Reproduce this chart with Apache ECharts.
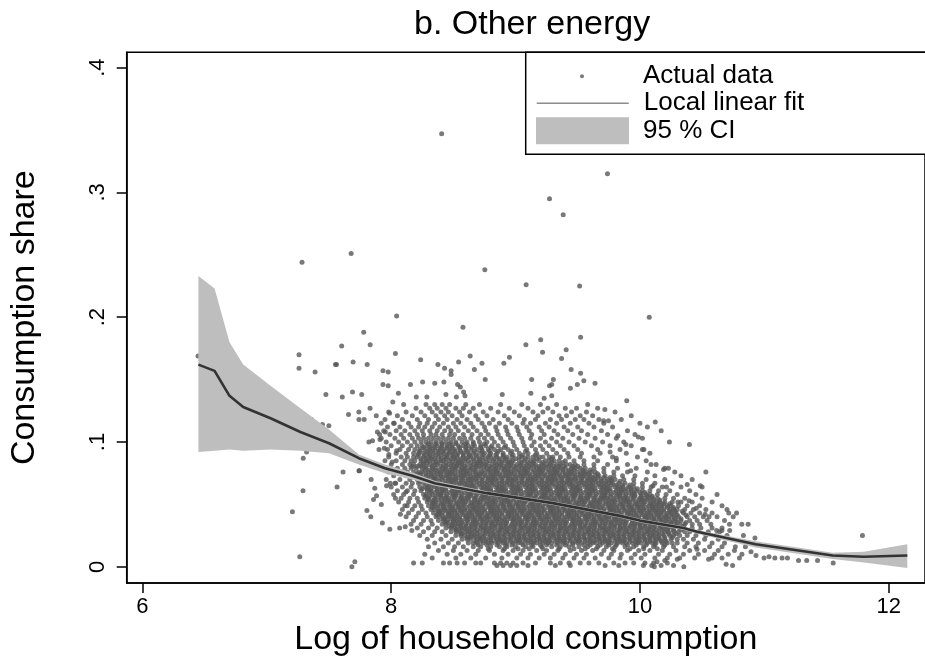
<!DOCTYPE html>
<html>
<head>
<meta charset="utf-8">
<script src="https://cdn.jsdelivr.net/npm/echarts@6/dist/echarts.min.js"></script>
<style>html,body{margin:0;padding:0;background:#fff}#c{width:925px;height:662px}</style>
</head>
<body>
<div id="c"></div>
<script>
// ---- axis ticks ----
const xTicks = [6, 8, 10, 12];
const yTicks = [0, 0.1, 0.2, 0.3, 0.4];
const yTickLabels = ['0', '.1', '.2', '.3', '.4'];

// ---- local linear fit and 95% CI ----
const fitX   = [6.45, 6.58, 6.70, 6.81, 7.03, 7.27, 7.50, 7.74, 7.95, 8.17, 8.35, 8.77, 9.30, 9.83, 10.00, 10.35, 10.46, 10.93, 11.55, 11.80, 12.15];
const fitY   = [0.162, 0.157, 0.137, 0.128, 0.119, 0.108, 0.099, 0.087, 0.079, 0.073, 0.067, 0.059, 0.051, 0.041, 0.037, 0.031, 0.028, 0.018, 0.009, 0.008, 0.009];
const ciLow  = [0.092, 0.093, 0.094, 0.093, 0.094, 0.093, 0.091, 0.082, 0.075, 0.070, 0.065, 0.0575, 0.0495, 0.0395, 0.0355, 0.0295, 0.0265, 0.0155, 0.0062, 0.0035, -0.001];
const ciHigh = [0.233, 0.223, 0.180, 0.162, 0.145, 0.127, 0.110, 0.090, 0.082, 0.0755, 0.069, 0.0605, 0.0525, 0.0425, 0.0385, 0.0325, 0.0295, 0.0205, 0.0112, 0.012, 0.018];

// ---- actual data: isolated points read individually ----
const outlierPoints = [
[8.406,0.347],[9.739,0.315],[9.273,0.295],[9.383,0.282],[7.283,0.244],[7.678,0.251],[8.753,0.238],[9.085,0.226],[9.515,0.225],[10.075,0.200],
[8.044,0.201],[8.577,0.192],[7.779,0.188],[7.602,0.177],[7.831,0.178],[9.083,0.178],[9.202,0.182],[9.523,0.184],[9.217,0.172],[9.407,0.174],
[8.034,0.171],[8.635,0.169],[8.951,0.168],[9.370,0.167],[7.694,0.164],[7.807,0.162],[7.560,0.162],[8.237,0.166],[8.376,0.162],[8.542,0.164],
[8.730,0.163],[8.906,0.163],[8.429,0.159],[8.482,0.157],[8.482,0.154],[8.669,0.158],[7.934,0.157],[7.976,0.156],[9.447,0.158],[9.523,0.155],
[9.549,0.149],[9.639,0.147],[9.497,0.146],[9.441,0.143],[9.304,0.150],[9.291,0.146],[9.273,0.145],[9.130,0.150],[8.756,0.150],[7.934,0.146],
[7.976,0.145],[8.155,0.146],[8.253,0.148],[8.350,0.147],[8.424,0.148],[8.534,0.146],[8.556,0.144],[8.582,0.140],[8.593,0.137],[7.607,0.136],
[7.689,0.140],[7.763,0.138],[8.058,0.139],[8.202,0.136],[8.287,0.136],[8.440,0.138],[8.524,0.136],[8.893,0.138],[9.123,0.139],[9.230,0.135],
[9.291,0.137],[9.894,0.133],[8.013,0.132],[6.447,0.169],[7.259,0.170],[7.259,0.159],[7.388,0.156],[7.552,0.162],[7.475,0.138],
[7.657,0.122],[7.741,0.118],[7.783,0.118],[7.360,0.118],[7.447,0.114],[7.499,0.113],[7.987,0.123],[7.320,0.092],[7.293,0.087],[7.613,0.076],
[7.741,0.077],[7.821,0.100],[7.850,0.101],[7.907,0.106],[7.910,0.102],[7.953,0.108],[7.945,0.095],[7.902,0.094],[8.044,0.093],[7.981,0.090],
[8.008,0.084],[8.024,0.115],[7.206,0.044],[7.291,0.061],[7.565,0.064],[7.265,0.008],[7.684,0.000],[7.708,0.004],[7.805,0.045],[7.836,0.040],
[7.929,0.035],[7.989,0.030],[7.858,0.054],[7.921,0.050],[8.034,0.055],[8.074,0.042],[8.068,0.031],[8.113,0.032],[8.166,0.029],[7.744,0.077],
[7.889,0.108],[7.839,0.070],[7.868,0.063],[7.882,0.057],[7.963,0.065],[7.992,0.067],[8.036,0.067],[8.119,0.060],[8.129,0.049],
[9.718,0.126],[9.708,0.117],[9.747,0.117],[10.123,0.116],[10.171,0.109],[9.987,0.104],[9.823,0.105],[9.886,0.098],[10.237,0.100],[10.398,0.098],
[10.032,0.094],[9.810,0.087],[9.760,0.092],[10.089,0.082],[10.229,0.079],[10.190,0.078],[10.530,0.076],[9.926,0.077],[10.380,0.066],[10.485,0.065],
[10.213,0.064],[10.105,0.065],[10.395,0.053],[10.305,0.052],[10.453,0.047],[10.524,0.042],[10.556,0.040],[10.714,0.043],[10.777,0.043],[10.819,0.034],
[10.870,0.034],[10.617,0.029],[10.659,0.029],[10.722,0.029],[10.832,0.025],[10.925,0.023],[10.767,0.016],[10.848,0.016],[10.893,0.012],[10.933,0.009],
[10.998,0.007],[11.038,0.008],[11.085,0.007],[11.143,0.007],[11.186,0.007],[11.275,0.005],[11.341,0.005],[11.428,0.005],[11.554,0.003],[10.693,0.002],
[10.745,0.001],[10.552,0.006],[10.459,0.014],[10.353,0.000],[10.300,0.006],[10.200,0.005],[10.137,0.004],[10.028,0.001],[10.095,0.001],[10.116,0.000],
[11.789,0.025]
];

// ---- actual data: the main cloud, one list of x values per y level ----
const cloudRowY = [0.130,0.127,0.124,0.121,0.118,0.115,0.112,0.109,0.106,0.103,0.100,0.097,0.094,0.091,
  0.088,0.085,0.082,0.079,0.076,0.073,0.070,0.067,0.064,0.061,0.058,0.055,0.052,0.049,0.046,0.043,0.040,0.037,0.034,0.031,0.028,0.025,0.022,0.019,
  0.016,0.013,0.010,0.007,0.003,0.001,
  0.0985,0.0955,0.0925,0.0895,
  0.0865,0.0835,0.0805,0.0775,0.0745,0.0715,0.0685,0.0655,0.0625,0.0595,0.0565,0.0535,0.0505,0.0475,0.0445,0.0415,0.0385,0.0355,0.0325,0.0295,0.0265,0.0235,0.0205,
  0.0175,0.0145];
const cloudRowX = [
[8.10,8.28,8.35,8.41,8.47,8.60,8.71,8.88,9.05,9.20,9.33,9.58],
[7.83,8.20,8.31,8.37,8.44,8.52,8.58,8.66,8.80,8.95,9.10,9.26,9.40,9.49,9.66],
[7.74,7.98,8.12,8.24,8.33,8.40,8.46,8.55,8.63,8.74,8.86,8.99,9.14,9.22,9.30,9.45,9.57,9.80],
[7.88,8.05,8.17,8.27,8.36,8.43,8.49,8.57,8.68,8.77,8.91,9.03,9.18,9.35,9.41,9.52,9.62,9.93],
[7.95,8.09,8.21,8.30,8.38,8.45,8.53,8.61,8.70,8.82,8.94,9.07,9.16,9.28,9.37,9.48,9.55,9.67,9.85],
[7.92,8.02,8.14,8.23,8.29,8.35,8.42,8.50,8.56,8.64,8.73,8.79,8.87,8.97,9.06,9.12,9.24,9.33,9.44,9.59,9.71,10.00],
[7.97,8.07,8.16,8.22,8.27,8.33,8.39,8.46,8.52,8.59,8.66,8.75,8.84,8.92,9.01,9.09,9.19,9.27,9.39,9.50,9.63,9.78,10.06],
[7.94,8.04,8.11,8.19,8.25,8.31,8.37,8.43,8.48,8.54,8.62,8.69,8.76,8.85,8.93,9.02,9.11,9.21,9.31,9.42,9.53,9.69,9.90],
[7.99,8.08,8.15,8.21,8.26,8.32,8.36,8.41,8.47,8.51,8.58,8.65,8.72,8.78,8.86,8.94,9.03,9.13,9.23,9.34,9.46,9.58,9.74,9.96],
[7.92,8.03,8.10,8.17,8.22,8.26,8.30,8.34,8.38,8.42,8.46,8.50,8.55,8.59,8.64,8.70,8.75,8.81,8.88,8.96,9.05,9.12,9.20,9.29,9.38,9.51,9.64,9.81,10.02],
[7.96,8.06,8.13,8.19,8.24,8.28,8.32,8.36,8.40,8.44,8.48,8.52,8.57,8.61,8.66,8.71,8.77,8.83,8.90,8.98,9.06,9.15,9.24,9.33,9.43,9.56,9.70,9.87],
[8.00,8.09,8.16,8.21,8.25,8.29,8.33,8.37,8.41,8.45,8.49,8.54,8.58,8.62,8.67,8.72,8.76,8.81,8.86,8.92,8.99,9.07,9.13,9.20,9.27,9.36,9.47,9.61,9.76,9.93],
[7.97,8.07,8.14,8.19,8.23,8.27,8.31,8.35,8.39,8.43,8.47,8.51,8.55,8.60,8.64,8.69,8.73,8.78,8.83,8.88,8.94,9.01,9.09,9.16,9.22,9.30,9.39,9.50,9.66,9.84,10.02],
[8.04,8.12,8.18,8.22,8.26,8.30,8.34,8.38,8.42,8.46,8.50,8.54,8.58,8.62,8.66,8.71,8.75,8.80,8.85,8.90,8.96,9.03,9.10,9.17,9.25,9.33,9.42,9.53,9.68,9.89,10.08],
[7.98,8.08,8.13,8.18,8.21,8.26,8.30,8.33,8.38,8.43,8.45,8.50,8.53,8.58,8.62,8.64,8.69,8.73,8.78,8.80,8.85,8.90,8.93,8.97,9.03,9.05,9.10,9.14,9.19,9.22,9.27,9.30,9.36,9.43,9.52,9.63,9.78,9.98],
[7.95,8.04,8.11,8.16,8.19,8.24,8.28,8.31,8.36,8.40,8.42,8.47,8.52,8.55,8.59,8.62,8.67,8.71,8.74,8.79,8.82,8.87,8.91,8.95,8.98,9.03,9.07,9.12,9.15,9.19,9.24,9.27,9.31,9.35,9.40,9.47,9.55,9.66,9.81,10.05],
[8.00,8.09,8.15,8.18,8.23,8.26,8.31,8.35,8.37,8.42,8.46,8.50,8.53,8.57,8.61,8.66,8.69,8.73,8.76,8.81,8.85,8.88,8.93,8.96,9.01,9.04,9.09,9.13,9.16,9.21,9.25,9.28,9.33,9.36,9.41,9.44,9.48,9.55,9.63,9.74,9.90,10.13],
[7.93,8.05,8.11,8.16,8.20,8.25,8.28,8.33,8.36,8.41,8.44,8.49,8.52,8.57,8.60,8.64,8.68,8.72,8.77,8.80,8.84,8.89,8.92,8.96,9.00,9.05,9.08,9.12,9.17,9.20,9.24,9.29,9.32,9.36,9.40,9.45,9.48,9.52,9.56,9.63,9.71,9.82,9.97,10.20],
[7.98,8.08,8.13,8.18,8.22,8.25,8.30,8.34,8.38,8.42,8.46,8.49,8.54,8.58,8.61,8.66,8.70,8.73,8.78,8.82,8.85,8.90,8.94,8.97,9.02,9.06,9.09,9.14,9.18,9.21,9.26,9.30,9.33,9.38,9.42,9.45,9.50,9.54,9.57,9.61,9.64,9.71,9.79,9.90,10.06,10.28],
[8.02,8.12,8.20,8.23,8.28,8.32,8.35,8.40,8.44,8.47,8.52,8.56,8.59,8.64,8.68,8.71,8.76,8.80,8.83,8.88,8.92,8.95,9.00,9.04,9.07,9.12,9.16,9.19,9.24,9.28,9.31,9.36,9.40,9.43,9.48,9.52,9.55,9.60,9.64,9.67,9.72,9.79,9.86,9.96,10.12,10.33],
[7.96,8.07,8.15,8.21,8.24,8.29,8.34,8.36,8.41,8.46,8.49,8.52,8.57,8.62,8.65,8.68,8.73,8.78,8.81,8.84,8.89,8.94,8.97,9.00,9.05,9.10,9.13,9.16,9.21,9.26,9.29,9.32,9.37,9.42,9.45,9.48,9.53,9.58,9.61,9.64,9.69,9.74,9.77,9.80,9.87,9.95,10.05,10.20,10.42],
[8.03,8.12,8.17,8.22,8.26,8.31,8.33,8.38,8.43,8.47,8.50,8.55,8.59,8.63,8.66,8.71,8.75,8.79,8.82,8.87,8.91,8.95,8.98,9.03,9.07,9.11,9.14,9.19,9.23,9.27,9.30,9.35,9.39,9.43,9.46,9.51,9.55,9.59,9.62,9.67,9.71,9.75,9.78,9.83,9.88,9.95,10.02,10.12,10.26],
[8.00,8.09,8.16,8.23,8.27,8.30,8.35,8.39,8.42,8.48,8.51,8.54,8.60,8.63,8.66,8.72,8.75,8.78,8.84,8.87,8.90,8.96,8.99,9.02,9.08,9.11,9.14,9.20,9.23,9.26,9.32,9.35,9.38,9.44,9.47,9.50,9.56,9.59,9.62,9.68,9.71,9.74,9.80,9.83,9.86,9.91,9.95,10.02,10.09,10.18,10.33,10.50],
[8.05,8.13,8.19,8.24,8.29,8.32,8.37,8.41,8.44,8.49,8.53,8.56,8.61,8.65,8.68,8.73,8.77,8.80,8.85,8.89,8.92,8.97,9.01,9.04,9.09,9.13,9.16,9.21,9.25,9.28,9.33,9.37,9.40,9.45,9.49,9.52,9.57,9.61,9.64,9.69,9.73,9.76,9.81,9.85,9.88,9.93,9.97,10.02,10.08,10.15,10.24,10.40],
[8.02,8.10,8.18,8.26,8.28,8.33,8.38,8.40,8.45,8.50,8.52,8.57,8.62,8.64,8.69,8.74,8.76,8.81,8.86,8.88,8.93,8.98,9.00,9.05,9.10,9.12,9.17,9.22,9.24,9.29,9.34,9.36,9.41,9.46,9.48,9.53,9.58,9.60,9.65,9.70,9.72,9.77,9.82,9.84,9.89,9.94,9.96,10.01,10.05,10.08,10.14,10.21,10.30,10.45,10.62],
[8.08,8.15,8.21,8.27,8.30,8.35,8.40,8.43,8.46,8.51,8.56,8.59,8.62,8.67,8.72,8.75,8.78,8.83,8.88,8.91,8.94,8.99,9.04,9.07,9.10,9.15,9.20,9.23,9.26,9.31,9.36,9.39,9.42,9.47,9.52,9.55,9.58,9.63,9.68,9.71,9.74,9.79,9.84,9.87,9.90,9.95,10.00,10.03,10.07,10.10,10.14,10.20,10.27,10.36,10.50],
[8.06,8.14,8.22,8.29,8.33,8.36,8.41,8.45,8.48,8.53,8.57,8.60,8.65,8.69,8.72,8.77,8.81,8.84,8.89,8.93,8.96,9.01,9.05,9.08,9.13,9.17,9.20,9.25,9.29,9.32,9.37,9.41,9.44,9.49,9.53,9.56,9.61,9.65,9.68,9.73,9.77,9.80,9.85,9.89,9.92,9.97,10.01,10.04,10.09,10.13,10.16,10.20,10.26,10.33,10.42,10.58],
[8.11,8.19,8.24,8.30,8.34,8.38,8.42,8.47,8.50,8.54,8.58,8.63,8.66,8.70,8.74,8.79,8.82,8.86,8.90,8.95,8.98,9.02,9.06,9.11,9.14,9.18,9.22,9.27,9.30,9.34,9.38,9.43,9.46,9.50,9.54,9.59,9.62,9.66,9.70,9.75,9.78,9.82,9.86,9.91,9.94,9.98,10.02,10.07,10.10,10.14,10.18,10.22,10.25,10.31,10.38,10.48,10.66],
[8.09,8.17,8.25,8.32,8.35,8.40,8.43,8.48,8.51,8.55,8.59,8.64,8.67,8.71,8.75,8.80,8.83,8.87,8.91,8.96,8.99,9.03,9.07,9.12,9.15,9.19,9.23,9.28,9.31,9.35,9.39,9.44,9.47,9.51,9.55,9.60,9.63,9.67,9.71,9.76,9.79,9.83,9.87,9.92,9.95,9.99,10.03,10.08,10.11,10.15,10.19,10.24,10.27,10.30,10.36,10.43,10.53,10.70],
[8.14,8.22,8.28,8.34,8.38,8.41,8.46,8.49,8.53,8.57,8.62,8.65,8.69,8.73,8.78,8.81,8.85,8.89,8.94,8.97,9.01,9.05,9.10,9.13,9.17,9.21,9.26,9.29,9.33,9.37,9.42,9.45,9.49,9.53,9.58,9.61,9.65,9.69,9.74,9.77,9.81,9.85,9.90,9.93,9.97,10.01,10.06,10.09,10.13,10.17,10.22,10.25,10.29,10.35,10.41,10.48,10.58],
[8.12,8.20,8.29,8.36,8.39,8.44,8.47,8.51,8.55,8.60,8.63,8.67,8.71,8.76,8.79,8.83,8.87,8.92,8.95,8.99,9.03,9.08,9.11,9.15,9.19,9.24,9.27,9.31,9.35,9.40,9.43,9.47,9.51,9.56,9.59,9.63,9.67,9.72,9.75,9.79,9.83,9.88,9.91,9.95,9.99,10.04,10.07,10.11,10.15,10.20,10.23,10.27,10.31,10.38,10.44,10.51,10.62,10.75],
[8.18,8.26,8.32,8.38,8.42,8.45,8.50,8.53,8.57,8.61,8.66,8.69,8.73,8.77,8.82,8.85,8.89,8.93,8.98,9.01,9.05,9.09,9.14,9.17,9.21,9.25,9.30,9.33,9.37,9.41,9.46,9.49,9.53,9.57,9.62,9.65,9.69,9.73,9.78,9.81,9.85,9.89,9.94,9.97,10.01,10.05,10.10,10.13,10.17,10.21,10.26,10.29,10.33,10.40,10.46,10.54,10.68],
[8.16,8.24,8.33,8.41,8.44,8.49,8.52,8.56,8.60,8.65,8.68,8.72,8.76,8.81,8.84,8.88,8.92,8.97,9.00,9.04,9.08,9.13,9.16,9.20,9.24,9.29,9.32,9.36,9.40,9.45,9.48,9.52,9.56,9.61,9.64,9.68,9.72,9.77,9.80,9.84,9.88,9.93,9.96,10.00,10.04,10.09,10.12,10.16,10.20,10.25,10.28,10.32,10.36,10.42,10.48,10.57,10.72],
[8.21,8.30,8.37,8.44,8.48,8.51,8.56,8.59,8.63,8.67,8.72,8.75,8.79,8.83,8.88,8.91,8.95,8.99,9.04,9.07,9.11,9.15,9.20,9.23,9.27,9.31,9.36,9.39,9.43,9.47,9.52,9.55,9.59,9.63,9.68,9.71,9.75,9.79,9.84,9.87,9.91,9.95,10.00,10.03,10.07,10.11,10.16,10.19,10.23,10.27,10.32,10.35,10.42,10.49,10.58,10.66],
[8.26,8.35,8.41,8.48,8.52,8.55,8.60,8.63,8.67,8.71,8.76,8.79,8.83,8.87,8.92,8.95,8.99,9.03,9.08,9.11,9.15,9.19,9.24,9.27,9.31,9.35,9.40,9.43,9.47,9.51,9.56,9.59,9.63,9.67,9.72,9.75,9.79,9.83,9.88,9.91,9.95,9.99,10.04,10.07,10.11,10.15,10.20,10.23,10.27,10.31,10.36,10.40,10.47,10.55,10.64],
[8.23,8.33,8.44,8.52,8.56,8.59,8.64,8.67,8.71,8.75,8.80,8.83,8.87,8.91,8.96,8.99,9.03,9.07,9.12,9.15,9.19,9.23,9.28,9.31,9.35,9.39,9.44,9.47,9.51,9.55,9.60,9.63,9.67,9.71,9.76,9.79,9.83,9.87,9.92,9.95,9.99,10.03,10.08,10.11,10.15,10.19,10.24,10.27,10.32,10.38,10.45,10.53,10.61,10.70],
[8.29,8.40,8.49,8.57,8.61,8.64,8.69,8.72,8.76,8.80,8.85,8.88,8.92,8.96,9.01,9.04,9.08,9.12,9.17,9.20,9.24,9.28,9.33,9.36,9.40,9.44,9.49,9.52,9.56,9.60,9.65,9.68,9.72,9.76,9.81,9.84,9.88,9.92,9.97,10.00,10.04,10.08,10.13,10.16,10.20,10.25,10.30,10.35,10.43,10.52,10.63],
[8.35,8.46,8.54,8.62,8.66,8.69,8.74,8.78,8.81,8.86,8.90,8.93,8.98,9.02,9.05,9.10,9.14,9.17,9.22,9.26,9.29,9.34,9.38,9.41,9.46,9.50,9.53,9.58,9.62,9.65,9.70,9.74,9.77,9.82,9.86,9.89,9.94,9.98,10.01,10.06,10.10,10.13,10.18,10.22,10.26,10.30,10.38,10.47,10.58,10.68],
[8.30,8.42,8.51,8.58,8.66,8.72,8.80,8.87,8.93,9.00,9.08,9.14,9.21,9.29,9.36,9.43,9.51,9.58,9.66,9.73,9.80,9.88,9.95,10.03,10.11,10.19,10.27,10.36,10.45,10.56,10.66],
[8.38,8.50,8.61,8.70,8.79,8.90,8.98,9.06,9.17,9.25,9.34,9.44,9.53,9.62,9.71,9.79,9.90,9.99,10.08,10.18,10.29,10.40,10.52,10.63,10.76],
[8.27,8.45,8.56,8.68,8.83,8.94,9.04,9.12,9.23,9.31,9.40,9.49,9.57,9.69,9.77,9.85,9.96,10.04,10.15,10.24,10.35,10.47,10.60,10.71,10.82],
[8.33,8.52,8.64,8.76,8.89,9.01,9.10,9.19,9.28,9.38,9.47,9.55,9.64,9.75,9.84,9.93,10.01,10.12,10.22,10.32,10.44,10.58,10.66,10.80],
[8.18,8.25,8.42,8.47,8.53,8.59,8.68,8.72,8.83,8.88,8.93,8.98,9.06,9.16,9.28,9.36,9.43,9.52,9.59,9.67,9.79,9.88,9.95,10.04,10.11,10.22],
[8.85,8.90,8.96,9.01,9.10,9.32,9.44,9.72,9.83,10.17,10.27],
[8.30,8.36,8.41,8.47,8.52,8.60,8.66,8.75],
[8.26,8.31,8.35,8.40,8.45,8.49,8.55,8.60,8.65,8.72,8.80,8.91],
[8.23,8.29,8.33,8.38,8.42,8.47,8.51,8.56,8.61,8.67,8.73,8.79,8.86,8.97,9.08],
[8.22,8.27,8.31,8.36,8.40,8.45,8.49,8.53,8.58,8.63,8.68,8.74,8.79,8.84,8.90,8.98,9.06,9.16],
[8.24,8.28,8.32,8.35,8.40,8.44,8.48,8.51,8.56,8.60,8.66,8.71,8.76,8.83,8.87,8.92,9.00,9.08,9.17,9.29],
[8.26,8.29,8.34,8.38,8.44,8.49,8.54,8.57,8.64,8.69,8.72,8.77,8.84,8.89,8.94,8.97,9.05,9.10,9.14,9.22,9.29,9.38],
[8.17,8.21,8.24,8.28,8.33,8.40,8.44,8.48,8.52,8.55,8.59,8.64,8.68,8.71,8.75,8.79,8.83,8.87,8.91,8.95,8.99,9.03,9.07,9.11,9.15,9.19,9.23,9.27,9.31,9.35,9.39,9.46,9.50],
[8.27,8.31,8.35,8.39,8.43,8.47,8.51,8.56,8.59,8.63,8.67,8.75,8.79,8.83,8.86,8.91,8.94,8.99,9.03,9.07,9.10,9.15,9.19,9.22,9.27,9.31,9.34,9.38,9.43,9.47,9.54,9.60],
[8.21,8.24,8.28,8.32,8.37,8.40,8.45,8.48,8.51,8.56,8.60,8.63,8.68,8.72,8.75,8.80,8.84,8.87,8.92,8.96,8.99,9.04,9.08,9.11,9.16,9.20,9.23,9.28,9.32,9.35,9.40,9.44,9.47,9.52,9.56,9.59,9.66],
[8.25,8.30,8.34,8.38,8.42,8.46,8.50,8.54,8.58,8.62,8.66,8.70,8.74,8.78,8.82,8.86,8.90,8.94,8.98,9.02,9.06,9.10,9.14,9.18,9.22,9.26,9.30,9.34,9.38,9.42,9.46,9.50,9.54,9.58,9.62,9.66,9.71,9.76],
[8.23,8.27,8.31,8.35,8.39,8.44,8.48,8.52,8.56,8.60,8.64,8.69,8.73,8.77,8.81,8.85,8.89,8.93,8.97,9.01,9.05,9.09,9.13,9.17,9.21,9.25,9.29,9.33,9.37,9.41,9.44,9.49,9.53,9.57,9.61,9.65,9.69,9.73,9.77,9.84],
[8.29,8.33,8.36,8.41,8.45,8.49,8.53,8.57,8.61,8.65,8.69,8.73,8.77,8.81,8.85,8.89,8.93,8.97,9.01,9.05,9.09,9.13,9.17,9.21,9.25,9.29,9.33,9.37,9.41,9.45,9.49,9.53,9.57,9.61,9.65,9.69,9.73,9.77,9.81,9.86,9.92],
[8.25,8.29,8.32,8.37,8.41,8.44,8.50,8.53,8.56,8.62,8.65,8.68,8.74,8.77,8.80,8.86,8.89,8.92,8.98,9.01,9.04,9.10,9.13,9.16,9.22,9.25,9.28,9.34,9.37,9.40,9.46,9.49,9.52,9.58,9.61,9.64,9.70,9.73,9.76,9.82,9.85,9.89,9.93,9.98],
[8.31,8.35,8.39,8.42,8.47,8.51,8.54,8.59,8.63,8.66,8.71,8.75,8.78,8.83,8.87,8.90,8.95,8.99,9.02,9.07,9.11,9.14,9.19,9.23,9.26,9.31,9.35,9.38,9.43,9.47,9.50,9.55,9.59,9.62,9.67,9.71,9.74,9.79,9.83,9.86,9.91,9.95,10.00,10.04],
[8.28,8.31,8.36,8.40,8.44,8.49,8.52,8.56,8.61,8.64,8.68,8.73,8.76,8.80,8.85,8.88,8.92,8.97,9.00,9.04,9.09,9.12,9.16,9.21,9.24,9.28,9.33,9.36,9.40,9.45,9.48,9.52,9.57,9.60,9.64,9.69,9.72,9.76,9.81,9.84,9.88,9.93,9.96,10.01,10.06,10.10],
[8.30,8.34,8.38,8.43,8.46,8.50,8.55,8.58,8.62,8.67,8.70,8.74,8.79,8.82,8.86,8.91,8.94,8.98,9.03,9.06,9.10,9.15,9.18,9.22,9.27,9.30,9.34,9.39,9.42,9.46,9.51,9.54,9.58,9.63,9.66,9.70,9.75,9.78,9.82,9.87,9.90,9.94,9.99,10.02,10.06,10.11,10.16],
[8.33,8.35,8.40,8.43,8.47,8.52,8.55,8.59,8.64,8.67,8.71,8.76,8.79,8.83,8.88,8.91,8.95,9.00,9.03,9.07,9.12,9.15,9.19,9.24,9.27,9.31,9.36,9.39,9.43,9.48,9.51,9.55,9.60,9.63,9.67,9.72,9.75,9.79,9.84,9.87,9.91,9.96,9.99,10.03,10.08,10.11,10.15,10.19,10.24],
[8.33,8.37,8.42,8.45,8.49,8.54,8.57,8.61,8.66,8.69,8.73,8.78,8.81,8.85,8.90,8.93,8.97,9.02,9.05,9.09,9.14,9.17,9.21,9.26,9.29,9.33,9.38,9.41,9.45,9.50,9.53,9.57,9.62,9.65,9.69,9.74,9.77,9.81,9.86,9.89,9.93,9.98,10.01,10.05,10.10,10.13,10.17,10.22,10.27],
[8.38,8.39,8.44,8.47,8.51,8.56,8.59,8.63,8.68,8.71,8.75,8.80,8.83,8.87,8.92,8.95,8.99,9.04,9.07,9.11,9.16,9.19,9.23,9.28,9.31,9.35,9.40,9.43,9.47,9.52,9.55,9.59,9.64,9.67,9.71,9.76,9.79,9.83,9.88,9.91,9.95,10.00,10.03,10.07,10.12,10.15,10.19,10.24,10.28,10.34],
[8.37,8.41,8.46,8.49,8.53,8.58,8.61,8.65,8.70,8.73,8.77,8.82,8.85,8.89,8.94,8.97,9.01,9.06,9.09,9.13,9.18,9.21,9.25,9.30,9.33,9.37,9.42,9.45,9.49,9.54,9.57,9.61,9.66,9.69,9.73,9.78,9.81,9.85,9.90,9.93,9.97,10.02,10.05,10.09,10.14,10.17,10.21,10.26,10.30,10.37],
[8.42,8.43,8.48,8.51,8.55,8.60,8.63,8.67,8.72,8.75,8.79,8.84,8.87,8.91,8.96,8.99,9.03,9.08,9.11,9.15,9.20,9.23,9.27,9.32,9.35,9.39,9.44,9.47,9.51,9.56,9.59,9.63,9.68,9.71,9.75,9.80,9.83,9.87,9.92,9.95,9.99,10.04,10.07,10.11,10.16,10.19,10.23,10.28,10.33],
[8.44,8.46,8.50,8.54,8.57,8.62,8.66,8.69,8.74,8.78,8.81,8.86,8.90,8.93,8.98,9.02,9.05,9.10,9.14,9.17,9.22,9.26,9.29,9.34,9.38,9.41,9.46,9.50,9.53,9.58,9.62,9.65,9.70,9.74,9.77,9.82,9.86,9.89,9.94,9.98,10.01,10.06,10.10,10.13,10.18,10.22,10.25,10.30,10.37],
[8.47,8.49,8.53,8.56,8.60,8.64,8.68,8.72,8.76,8.80,8.84,8.88,8.92,8.96,9.00,9.04,9.08,9.12,9.16,9.20,9.24,9.28,9.32,9.36,9.40,9.44,9.48,9.52,9.56,9.60,9.64,9.68,9.72,9.76,9.80,9.84,9.88,9.92,9.96,10.00,10.04,10.08,10.12,10.16,10.20,10.24,10.29,10.35],
[8.52,8.53,8.57,8.61,8.65,8.69,8.74,8.77,8.81,8.86,8.89,8.93,8.98,9.01,9.05,9.10,9.13,9.17,9.22,9.25,9.29,9.34,9.37,9.41,9.46,9.49,9.53,9.58,9.61,9.65,9.70,9.73,9.77,9.82,9.85,9.89,9.94,9.97,10.01,10.06,10.09,10.13,10.18,10.22,10.27,10.33],
[8.56,8.57,8.62,8.65,8.69,8.74,8.78,8.82,8.86,8.90,8.94,8.98,9.02,9.06,9.10,9.14,9.18,9.22,9.26,9.30,9.34,9.38,9.42,9.46,9.50,9.54,9.58,9.62,9.66,9.70,9.74,9.78,9.82,9.86,9.90,9.94,9.98,10.02,10.06,10.10,10.14,10.18,10.23,10.29],
[8.61,8.63,8.67,8.71,8.74,8.79,8.83,8.87,8.91,8.95,8.99,9.03,9.07,9.11,9.15,9.19,9.23,9.27,9.31,9.35,9.39,9.43,9.47,9.51,9.55,9.59,9.63,9.67,9.71,9.75,9.79,9.83,9.87,9.91,9.95,9.99,10.03,10.07,10.11,10.15,10.20,10.26],
[8.68,8.72,8.76,8.80,8.84,8.88,8.91,8.96,9.00,9.03,9.08,9.12,9.15,9.20,9.24,9.27,9.32,9.36,9.39,9.44,9.48,9.51,9.56,9.60,9.63,9.68,9.72,9.75,9.80,9.84,9.87,9.92,9.96,9.99,10.04,10.08,10.12,10.17,10.21],
[8.70,8.77,8.85,8.92,8.97,9.06,9.13,9.20,9.25,9.33,9.40,9.46,9.55,9.60,9.68,9.75,9.81,9.90,9.97,10.05,10.12,10.20],
[8.78,8.91,9.02,9.11,9.22,9.35,9.47,9.56,9.65,9.78,9.92,10.03,10.14]
];

// ---- build series data from the arrays ----
const scatterData = outlierPoints.slice();
cloudRowY.forEach(function (y, i) {
  cloudRowX[i].forEach(function (x) { scatterData.push([x, y]); });
});
const fitData = fitX.map(function (x, i) { return [x, fitY[i]]; });
const ciData = fitX.map(function (x, i) { return [x, ciLow[i], ciHigh[i]]; });

const FONT = 'Liberation Sans, Arial, Helvetica, sans-serif';
const chart = echarts.init(document.getElementById('c'), null, { renderer: 'canvas' });

const option = {
  animation: false,
  backgroundColor: '#fff',
  textStyle: { fontFamily: FONT },
  title: {
    text: 'b. Other energy', left: 414, top: 8, padding: 0,
    textStyle: { fontFamily: FONT, fontSize: 34, fontWeight: 'normal', color: '#000' }
  },
  grid: {
    left: 126.7, top: 52.3, width: 812, height: 533.4,
    show: true, borderColor: '#000', borderWidth: 1.5, backgroundColor: 'transparent'
  },
  xAxis: {
    type: 'value', min: 5.8735, max: 12.292,
    name: 'Log of household consumption', nameLocation: 'middle', nameGap: 36,
    nameTextStyle: { fontFamily: FONT, fontSize: 34, color: '#000' },
    axisLine: { onZero: false, lineStyle: { color: '#000', width: 1.5 } },
    axisTick: { show: true, customValues: xTicks, length: 10, lineStyle: { color: '#000', width: 1.5 } },
    axisLabel: { customValues: xTicks, fontFamily: FONT, fontSize: 22, color: '#000', margin: 13 },
    splitLine: { show: false }
  },
  yAxis: {
    type: 'value', min: -0.01308, max: 0.41228,
    name: 'Consumption share', nameLocation: 'middle', nameGap: 84.7,
    nameTextStyle: { fontFamily: FONT, fontSize: 34, color: '#000' },
    axisLine: { onZero: false, lineStyle: { color: '#000', width: 1.5 } },
    axisTick: { show: true, customValues: yTicks, length: 10, lineStyle: { color: '#000', width: 1.5 } },
    axisLabel: {
      customValues: yTicks, rotate: 90, fontFamily: FONT, fontSize: 22, color: '#000', margin: 18,
      formatter: function (v) {
        const idx = yTicks.findIndex(function (t) { return Math.abs(t - v) < 1e-9; });
        return idx >= 0 ? yTickLabels[idx] : '';
      }
    },
    splitLine: { show: false }
  },
  graphic: [{
    type: 'rect', z: 10,
    shape: { x: 525.7, y: 52.3, width: 430, height: 102 },
    style: { fill: '#fff', stroke: '#000', lineWidth: 1.5 }
  }],
  legend: [
    {
      data: [{ name: 'Actual data', icon: 'circle', itemStyle: { color: '#5a5a5a' } }],
      left: 580, top: 63.2, padding: 0, itemWidth: 4, itemHeight: 4, z: 20, selectedMode: false,
      textStyle: { fontFamily: FONT, fontSize: 26, color: '#000', padding: [0, 0, 0, 54] }
    },
    {
      data: [{ name: 'Local linear fit', itemStyle: { opacity: 0 }, lineStyle: { color: '#8c8c8c', width: 1.5 } }],
      left: 536, top: 90.3, padding: 0, itemWidth: 92, itemHeight: 14, z: 20, selectedMode: false,
      textStyle: { fontFamily: FONT, fontSize: 26, color: '#000', padding: [0, 0, 0, 10] }
    },
    {
      data: [{ name: '95 % CI', icon: 'rect', itemStyle: { color: '#bebebe' } }],
      left: 536, top: 117.3, padding: 0, itemWidth: 93, itemHeight: 27, z: 20, selectedMode: false,
      textStyle: { fontFamily: FONT, fontSize: 26, color: '#000', padding: [0, 0, 0, 9] }
    }
  ],
  series: [
    {
      name: 'Actual data', type: 'scatter', data: scatterData,
      symbol: 'circle', symbolSize: 5, progressive: 0, large: false,
      itemStyle: { color: '#585858' }, z: 2, silent: true
    },
    {
      name: '95 % CI', type: 'custom', coordinateSystem: 'cartesian2d',
      data: ciData, encode: { x: 0, y: [1, 2] }, z: 3, silent: true,
      itemStyle: { color: '#bebebe' },
      renderItem: function (params, api) {
        if (params.dataIndex !== 0) return null;
        const upper = [], lower = [];
        for (let i = 0; i < fitX.length; i++) {
          upper.push(api.coord([fitX[i], ciHigh[i]]));
          lower.push(api.coord([fitX[i], ciLow[i]]));
        }
        return { type: 'polygon', shape: { points: upper.concat(lower.reverse()) }, style: { fill: '#bebebe' } };
      }
    },
    {
      name: 'Local linear fit', type: 'line', data: fitData,
      symbol: 'none', showSymbol: false, z: 4, silent: true,
      itemStyle: { color: '#333333' },
      lineStyle: { color: '#333333', width: 2.6 }
    }
  ]
};
chart.setOption(option);
</script>
</body>
</html>
